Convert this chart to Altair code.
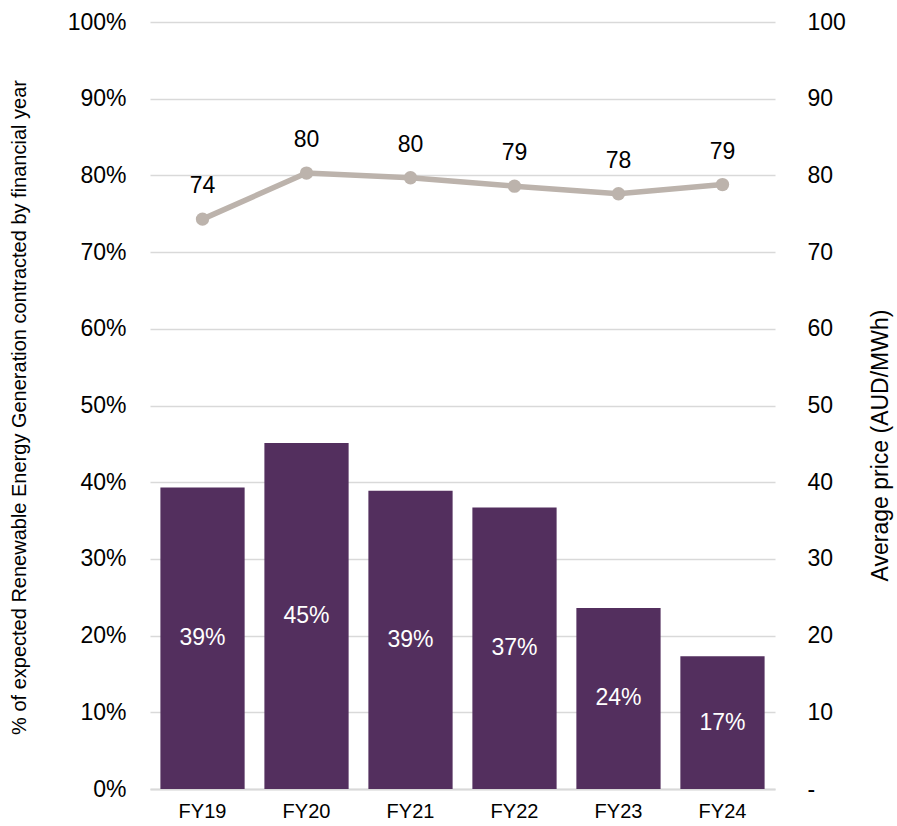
import altair as alt
import pandas as pd

years = ["FY19", "FY20", "FY21", "FY22", "FY23", "FY24"]
share_pct = [39.3, 45.1, 38.9, 36.7, 23.6, 17.3]
avg_price = [74.3, 80.3, 79.7, 78.6, 77.6, 78.8]

df = pd.DataFrame({"year": years, "share": share_pct, "price": avg_price})

FONT = "Liberation Sans"
BAR = "#532F5E"
LINE = "#BCB3AC"
GRID = "#D9D9D9"

ysc = alt.Scale(domain=[0, 100], nice=False)

x_axis = alt.Axis(labelAngle=0, labelFontSize=20, labelFont=FONT, labelColor="#000000",
                  labelPadding=12, ticks=False, domain=True, domainColor=GRID,
                  domainWidth=2, grid=False)
x = alt.X("year:N", sort=years, title=None,
          scale=alt.Scale(paddingInner=0.19, paddingOuter=0.1), axis=x_axis)

left_axis = alt.Axis(values=list(range(0, 101, 10)), labelExpr="datum.value + '%'",
                     labelFontSize=23, labelFont=FONT, labelColor="#000000",
                     labelPadding=24, ticks=False, domain=False,
                     grid=True, gridColor=GRID, gridWidth=1.5,
                     titleFont=FONT, titleFontSize=20, titleFontWeight="normal",
                     titleColor="#000000", titleAngle=270, titleBaseline="middle",
                     titleAlign="center", titleX=-131, titleY=385)
left_title = "% of expected Renewable Energy Generation contracted by financial year"

right_axis = alt.Axis(orient="right", values=list(range(0, 101, 10)),
                      labelExpr="datum.value == 0 ? '-' : datum.value",
                      labelFontSize=23, labelFont=FONT, labelColor="#000000",
                      labelPadding=32, ticks=False, domain=False, grid=False,
                      titleFont=FONT, titleFontSize=23, titleFontWeight="normal",
                      titleColor="#000000", titleAngle=270, titleBaseline="middle",
                      titleAlign="center", titleX=105, titleY=423)
right_title = "Average price (AUD/MWh)"

bars = alt.Chart(df).mark_bar(color=BAR).encode(
    x=x,
    y=alt.Y("share:Q", scale=ysc, title=left_title, axis=left_axis),
)

bar_text = alt.Chart(df).transform_calculate(
    mid="datum.share / 2",
    lab="round(datum.share) + '%'",
).mark_text(color="white", fontSize=23, font=FONT, baseline="middle").encode(
    x=x,
    y=alt.Y("mid:Q", scale=ysc, title=left_title, axis=left_axis),
    text="lab:N",
)

left = alt.layer(bars, bar_text)

line = alt.Chart(df).mark_line(color=LINE, strokeWidth=5.5).encode(
    x=x, y=alt.Y("price:Q", scale=ysc, title=right_title, axis=right_axis))
points = alt.Chart(df).mark_point(color=LINE, filled=True, opacity=1, size=180).encode(
    x=x, y=alt.Y("price:Q", scale=ysc, title=right_title, axis=right_axis))
line_text = alt.Chart(df).transform_calculate(
    lab="format(round(datum.price), 'd')"
).mark_text(color="#000000", fontSize=23, font=FONT, dy=-33, baseline="middle").encode(
    x=x,
    y=alt.Y("price:Q", scale=ysc, title=right_title, axis=right_axis),
    text="lab:N",
)
right = alt.layer(line, points, line_text)

chart = alt.layer(left, right).resolve_scale(y="independent").properties(
    width=625, height=767,
    autosize=alt.AutoSizeParams(type="none"),
    padding={"left": 150, "top": 22, "right": 122, "bottom": 37},
    view=alt.ViewBackground(strokeOpacity=0, strokeWidth=0),
).configure_view(strokeOpacity=0, strokeWidth=0).configure(background="white")

chart.save("out.html", embed_options={"renderer": "svg", "actions": False})
